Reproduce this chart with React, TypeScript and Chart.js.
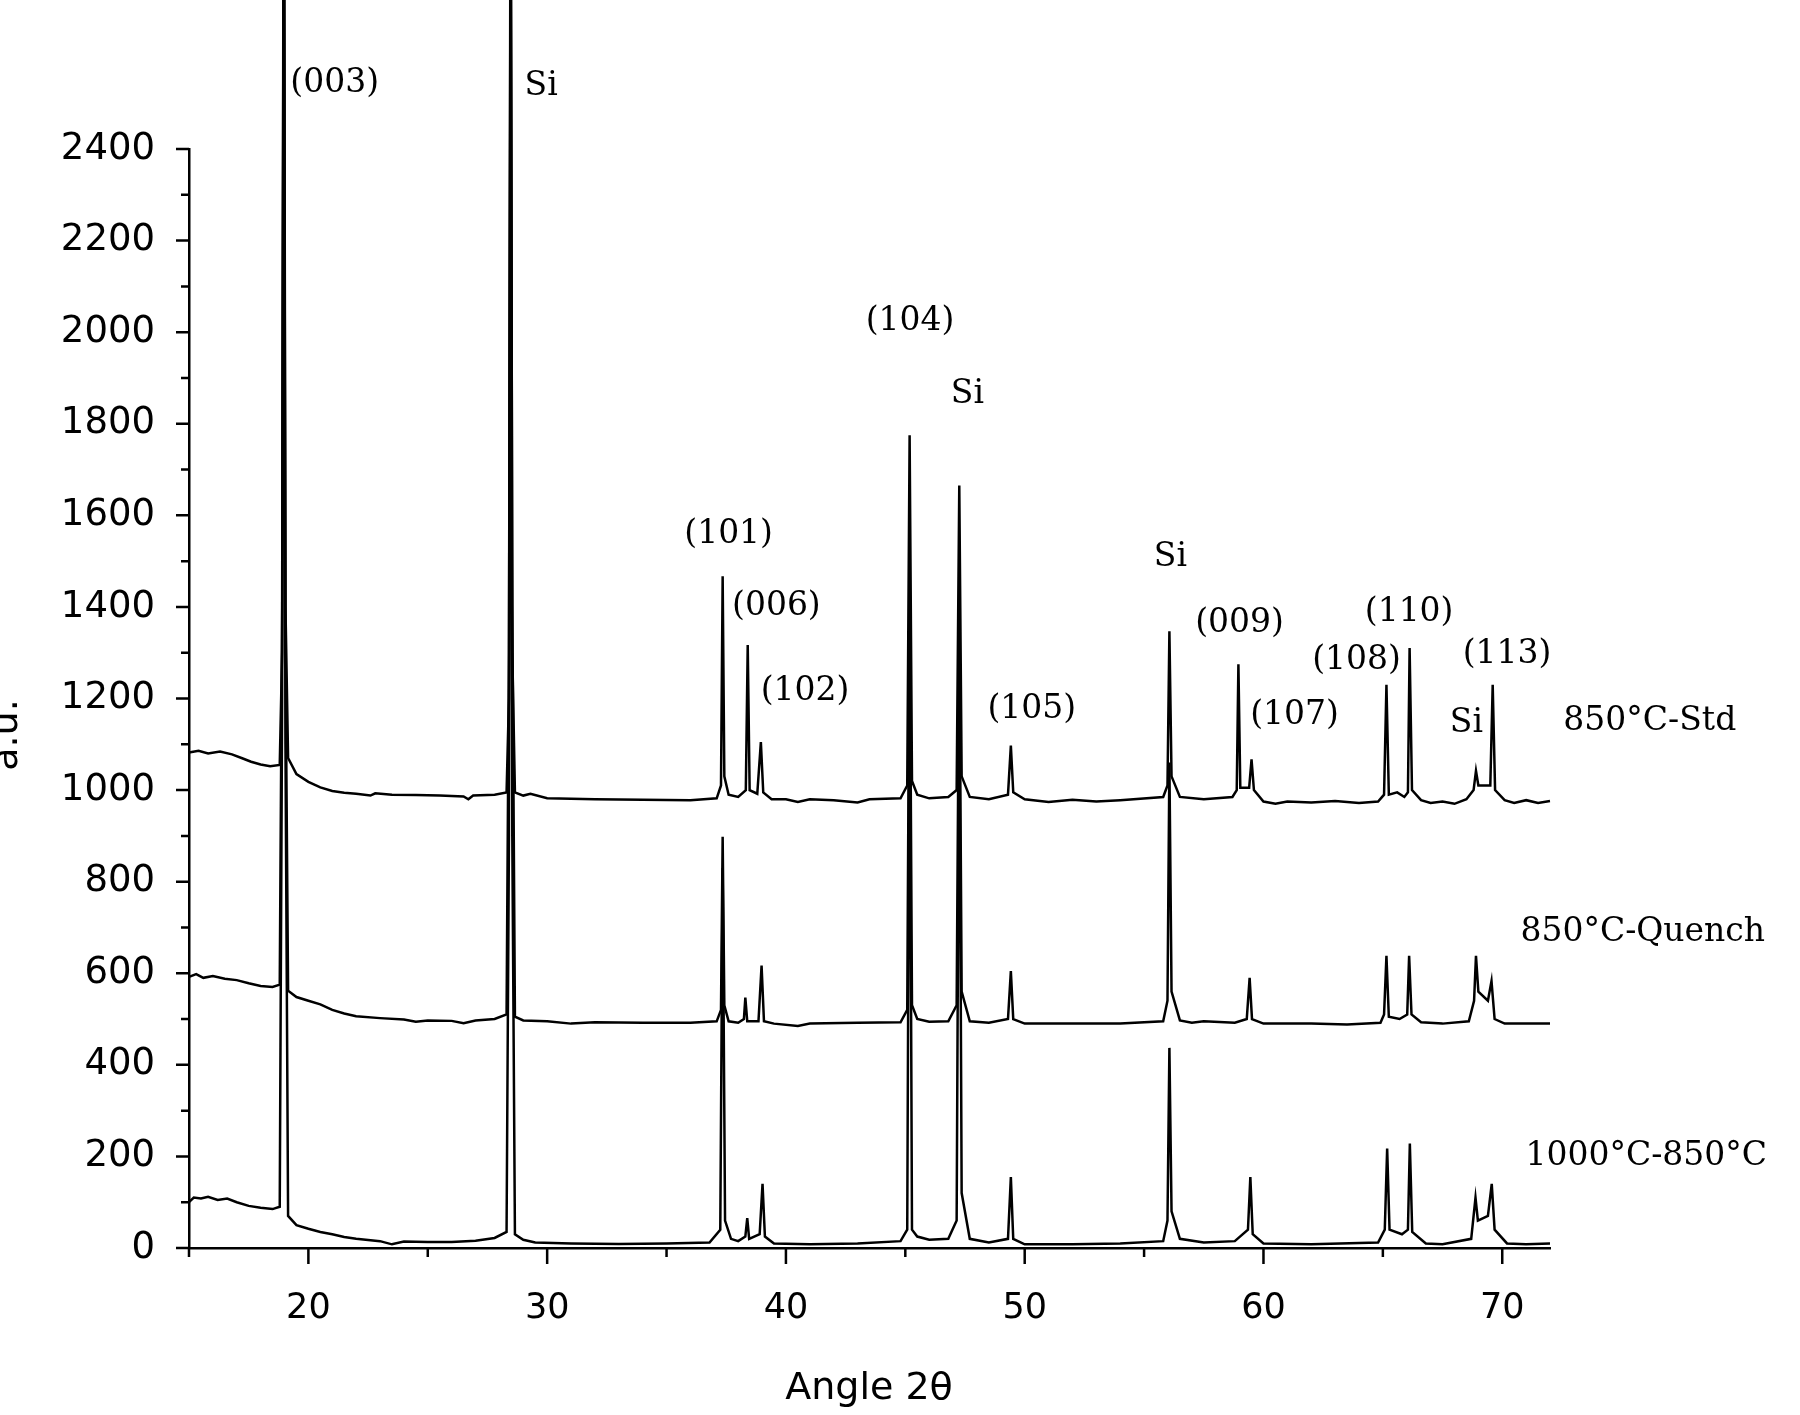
import React, { useEffect, useRef } from "react";
import { Chart, registerables } from "chart.js";

Chart.register(...registerables);

// ---- axis ranges / ticks ----
const xRange = [15, 72];
const yRange = [0, 2400];
const xMajorStep = 10;
const yMajorStep = 200;

// ---- series (2θ, intensity a.u.) ----
const std850: [number, number][] = [
  [15.0, 1082], [15.4, 1086], [15.8, 1080], [16.3, 1084], [16.8, 1078], [17.2, 1070], [17.6, 1062], [18.0, 1056],
  [18.4, 1052], [18.8, 1055], [18.9, 1300], [18.97, 3300], [19.04, 1400], [19.15, 1070], [19.5, 1035], [20.0, 1018],
  [20.5, 1006], [21.0, 998], [21.5, 994], [22.0, 992], [22.6, 988], [22.8, 993], [23.5, 990], [24.5, 989],
  [25.5, 988], [26.5, 986], [26.7, 980], [26.9, 988], [27.8, 990], [28.3, 995], [28.4, 1200], [28.47, 3200],
  [28.54, 1300], [28.65, 995], [29.0, 988], [29.3, 992], [30.0, 982], [32.0, 980], [34.0, 979], [36.0, 978],
  [37.1, 982], [37.28, 1010], [37.35, 1467], [37.42, 1030], [37.6, 990], [38.0, 985], [38.32, 1000], [38.4, 1317],
  [38.48, 1000], [38.8, 992], [38.95, 1105], [39.05, 995], [39.4, 980], [40.0, 980], [40.5, 974], [41.0, 980],
  [42.0, 978], [43.0, 973], [43.5, 980], [44.8, 982], [45.08, 1010], [45.18, 1775], [45.28, 1020], [45.5, 990],
  [46.0, 982], [46.8, 985], [47.15, 1000], [47.26, 1665], [47.36, 1030], [47.7, 985], [48.5, 980], [49.3, 990],
  [49.42, 1097], [49.52, 995], [50.0, 980], [51.0, 974], [52.0, 979], [53.0, 975], [54.0, 978], [55.8, 985],
  [55.98, 1010], [56.06, 1347], [56.15, 1030], [56.5, 985], [57.5, 980], [58.7, 985], [58.88, 1000], [58.95, 1275],
  [59.03, 1005], [59.4, 1005], [59.5, 1067], [59.6, 1000], [60.0, 975], [60.5, 970], [61.0, 975], [62.0, 973],
  [63.0, 976], [64.0, 972], [64.8, 975], [65.05, 990], [65.15, 1230], [65.25, 990], [65.6, 995], [65.9, 985],
  [66.05, 995], [66.12, 1310], [66.22, 1000], [66.6, 978], [67.0, 972], [67.5, 975], [68.0, 970], [68.5, 980],
  [68.8, 1000], [68.9, 1042], [69.0, 1010], [69.5, 1010], [69.6, 1230], [69.7, 1000], [70.1, 978], [70.5, 972],
  [71.0, 978], [71.5, 972], [72.0, 976],
];

const quench850: [number, number][] = [
  [15.0, 592], [15.3, 598], [15.6, 590], [16.0, 594], [16.5, 588], [17.0, 585], [17.5, 578], [18.0, 572],
  [18.5, 570], [18.8, 575], [18.9, 1400], [18.97, 3100], [19.04, 1300], [19.15, 562], [19.5, 548], [20.0, 540],
  [20.5, 532], [21.0, 520], [21.5, 512], [22.0, 506], [23.0, 502], [24.0, 499], [24.5, 494], [25.0, 497],
  [26.0, 496], [26.5, 491], [27.0, 497], [27.8, 500], [28.3, 510], [28.4, 1300], [28.47, 3000], [28.54, 1400],
  [28.65, 505], [29.0, 497], [30.0, 495], [31.0, 490], [32.0, 493], [34.0, 492], [36.0, 492], [37.1, 495],
  [37.28, 520], [37.35, 898], [37.42, 530], [37.6, 495], [38.0, 492], [38.24, 500], [38.3, 547], [38.38, 495],
  [38.85, 495], [38.98, 617], [39.08, 495], [39.5, 490], [40.5, 485], [41.0, 490], [43.0, 492], [44.8, 493],
  [45.08, 520], [45.18, 1450], [45.28, 530], [45.5, 500], [46.0, 494], [46.8, 495], [47.15, 530], [47.26, 1380],
  [47.36, 560], [47.7, 495], [48.5, 492], [49.3, 500], [49.42, 605], [49.52, 500], [50.0, 490], [52.0, 490],
  [54.0, 490], [55.8, 495], [55.98, 540], [56.06, 1060], [56.15, 560], [56.5, 497], [57.0, 492], [57.5, 495],
  [58.8, 492], [59.3, 500], [59.42, 590], [59.52, 500], [60.0, 490], [62.0, 490], [63.5, 488], [64.9, 492],
  [65.05, 510], [65.15, 638], [65.25, 505], [65.7, 500], [66.02, 510], [66.1, 638], [66.2, 510], [66.6, 493],
  [67.5, 490], [68.6, 495], [68.82, 540], [68.9, 638], [69.0, 560], [69.4, 540], [69.55, 583], [69.68, 500],
  [70.1, 490], [71.0, 490], [72.0, 490],
];

const c1000to850: [number, number][] = [
  [15.0, 100], [15.2, 110], [15.5, 108], [15.8, 112], [16.2, 105], [16.6, 108], [17.0, 100], [17.5, 92],
  [18.0, 88], [18.5, 85], [18.8, 90], [18.9, 1200], [18.97, 3000], [19.04, 1100], [19.15, 70], [19.5, 50],
  [20.0, 42], [20.5, 35], [21.0, 30], [21.5, 24], [22.0, 20], [23.0, 15], [23.5, 8], [24.0, 14],
  [25.0, 13], [26.0, 13], [27.0, 16], [27.8, 22], [28.3, 35], [28.4, 900], [28.47, 2900], [28.54, 900],
  [28.65, 30], [29.0, 18], [29.5, 12], [31.0, 10], [33.0, 9], [35.0, 10], [36.8, 12], [37.25, 40],
  [37.35, 830], [37.45, 60], [37.7, 20], [38.0, 15], [38.3, 25], [38.38, 65], [38.46, 20], [38.9, 30],
  [39.02, 140], [39.12, 25], [39.5, 10], [41.0, 8], [43.0, 10], [44.8, 15], [45.08, 40], [45.18, 1300],
  [45.28, 40], [45.5, 25], [46.0, 18], [46.8, 20], [47.15, 60], [47.26, 1250], [47.36, 120], [47.7, 20],
  [48.5, 12], [49.3, 20], [49.42, 155], [49.52, 20], [50.0, 8], [52.0, 8], [54.0, 10], [55.8, 15],
  [55.98, 60], [56.06, 437], [56.15, 80], [56.5, 20], [57.5, 12], [58.8, 15], [59.35, 40], [59.45, 155],
  [59.55, 30], [60.0, 10], [62.0, 8], [64.8, 12], [65.08, 40], [65.18, 217], [65.28, 40], [65.8, 30],
  [66.05, 40], [66.13, 228], [66.23, 35], [66.8, 10], [67.5, 8], [68.7, 20], [68.88, 110], [68.98, 60],
  [69.4, 70], [69.56, 140], [69.68, 40], [70.2, 10], [71.0, 8], [72.0, 10],
];

// ---- annotations (text, 2θ, a.u.) ----
const peakLabels: [string, number, number][] = [
  ["(003)", 21.1, 2544], ["Si", 29.75, 2537], ["(104)", 45.2, 2024], ["Si", 47.6, 1865],
  ["(101)", 37.6, 1559], ["(006)", 39.6, 1402], ["(102)", 40.8, 1216], ["(105)", 50.3, 1177],
  ["Si", 56.1, 1509], ["(009)", 59.0, 1365], ["(107)", 61.3, 1164], ["(108)", 63.9, 1284],
  ["(110)", 66.1, 1389], ["Si", 68.5, 1146], ["(113)", 70.2, 1297],
];
const seriesLabels: [string, number, number][] = [
  ["850°C-Std", 72.56, 1151],
  ["850°C-Quench", 70.76, 690],
  ["1000°C-850°C", 70.97, 199],
];
const xTitle = "Angle 2θ";
const yTitle = "a.u.";

const overlay = {
  id: "overlay",
  afterDraw(chart: any) {
    const ctx = chart.ctx;
    const xs = chart.scales.x;
    const ys = chart.scales.y;
    const area = chart.chartArea;
    ctx.save();
    ctx.strokeStyle = "#000";
    ctx.lineWidth = 2.5;
    ctx.beginPath();
    for (let v = yRange[0]; v <= yRange[1]; v += yMajorStep / 2) {
      const py = ys.getPixelForValue(v);
      const len = v % yMajorStep === 0 ? 13 : 8;
      ctx.moveTo(area.left - len, py);
      ctx.lineTo(area.left, py);
    }
    for (let v = xRange[0]; v <= xRange[1]; v += xMajorStep / 2) {
      const px = xs.getPixelForValue(v);
      const len = v % xMajorStep === 0 ? 16 : 9;
      ctx.moveTo(px, area.bottom);
      ctx.lineTo(px, area.bottom + len);
    }
    ctx.stroke();

    ctx.fillStyle = "#000";
    ctx.textBaseline = "middle";
    ctx.font = '33px "DejaVu Serif"';
    ctx.textAlign = "center";
    peakLabels.forEach(([t, x, y]) => {
      ctx.fillText(t, xs.getPixelForValue(x), ys.getPixelForValue(y));
    });
    ctx.textAlign = "left";
    seriesLabels.forEach(([t, x, y]) => {
      ctx.fillText(t, xs.getPixelForValue(x), ys.getPixelForValue(y));
    });

    ctx.font = '38px "DejaVu Sans"';
    ctx.textAlign = "center";
    ctx.fillText(xTitle, 869, 1389);
    ctx.translate(7, 735);
    ctx.rotate(-Math.PI / 2);
    ctx.fillText(yTitle, 0, 0);
    ctx.restore();
  },
};

export default function App() {
  const ref = useRef<HTMLCanvasElement | null>(null);
  useEffect(() => {
    document.body.style.margin = "0";
    if (!ref.current) return;
    const mk = (data: [number, number][], label: string) => ({
      label,
      data: data.map(([x, y]) => ({ x, y })),
      borderColor: "#000",
      borderWidth: 2.5,
      pointRadius: 0,
      tension: 0,
      fill: false,
      clip: false as any,
    });
    const chart = new Chart(ref.current, {
      type: "line",
      data: {
        datasets: [
          mk(std850, seriesLabels[0][0]),
          mk(quench850, seriesLabels[1][0]),
          mk(c1000to850, seriesLabels[2][0]),
        ],
      },
      options: {
        responsive: false,
        animation: false,
        parsing: false as any,
        layout: { padding: { top: 149, right: 250, left: 0, bottom: 0 } },
        plugins: { legend: { display: false }, tooltip: { enabled: false } },
        scales: {
          x: {
            type: "linear",
            min: xRange[0],
            max: xRange[1],
            grid: { display: false, drawTicks: false },
            border: { display: true, color: "#000", width: 2.5 },
            ticks: {
              stepSize: xMajorStep,
              includeBounds: false,
              padding: 40,
              color: "#000",
              font: { family: "DejaVu Sans", size: 35 },
              maxRotation: 0,
              autoSkip: false,
              callback: (v: any) => String(v),
            },
            afterFit: (s: any) => { s.height = 167; },
          },
          y: {
            type: "linear",
            min: yRange[0],
            max: yRange[1],
            grid: { display: false, drawTicks: false },
            border: { display: true, color: "#000", width: 2.5 },
            ticks: {
              stepSize: yMajorStep,
              padding: 34,
              color: "#000",
              font: { family: "DejaVu Sans", size: 37 },
              autoSkip: false,
              callback: (v: any) => String(v),
            },
            afterFit: (s: any) => { s.width = 189; },
          },
        },
      },
      plugins: [overlay],
    });
    return () => chart.destroy();
  }, []);
  return (
    <div style={{ position: "absolute", left: 0, top: 0, width: 1800, height: 1415, background: "#fff" }}>
      <canvas ref={ref} width={1800} height={1415} />
    </div>
  );
}
